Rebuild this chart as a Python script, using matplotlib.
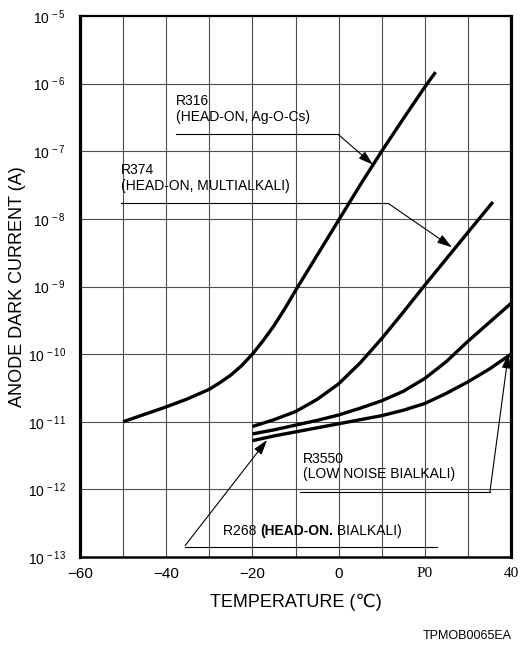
import numpy as np
import matplotlib
matplotlib.use("Agg")
import matplotlib.pyplot as plt

plt.rcParams['font.family'] = ['Liberation Sans', 'DejaVu Sans']
plt.rcParams['mathtext.fontset'] = 'custom'
plt.rcParams['mathtext.rm'] = 'Liberation Sans'
plt.rcParams['mathtext.it'] = 'Liberation Sans'

# Anode dark current (log10 of amperes) versus temperature (deg C)
r316_temp = [-50, -45, -40, -35, -30, -27.5, -25, -22.5, -20, -17.5, -15, -12.5,
             -10, -5, 0, 5, 10, 15, 20, 22.5]
r316_log = [-11.0, -10.89, -10.78, -10.66, -10.52, -10.42, -10.31, -10.17, -10.0,
            -9.80, -9.58, -9.33, -9.06, -8.54, -8.02, -7.5, -7.0, -6.52, -6.05, -5.83]

r374_temp = [-20, -15, -10, -5, 0, 5, 10, 15, 20, 25, 30, 35.8]
r374_log = [-11.07, -10.97, -10.85, -10.67, -10.44, -10.13, -9.77, -9.38, -8.98,
            -8.59, -8.2, -7.75]

r3550_temp = [-20, -15, -10, -5, 0, 5, 10, 15, 20, 25, 30, 35, 40]
r3550_log = [-11.18, -11.12, -11.05, -10.98, -10.9, -10.8, -10.69, -10.55, -10.36,
             -10.11, -9.81, -9.53, -9.25]

r268_temp = [-20, -15, -10, -5, 0, 5, 10, 15, 20, 25, 30, 35, 40]
r268_log = [-11.28, -11.21, -11.15, -11.09, -11.03, -10.97, -10.91, -10.83, -10.73,
            -10.58, -10.41, -10.22, -10.0]

x_ticks = [-60, -40, -20, 0, 20, 40]
x_tick_labels = ['\u221260', '\u221240', '\u221220', '0', 'P0', '40']
y_exponents = [-13, -12, -11, -10, -9, -8, -7, -6, -5]

W, H = 521, 647
fig = plt.figure(figsize=(W / 100, H / 100), dpi=100)
ax = fig.add_axes([80 / W, 1 - 557 / H, (511 - 80) / W, (557 - 16) / H])

ax.set_yscale('log')
ax.set_xlim(-60, 40)
ax.set_ylim(1e-13, 1e-5)

# grid
for t in range(-50, 40, 10):
    ax.axvline(t, color='0.3', lw=0.8, zorder=1)
for e in y_exponents[1:-1]:
    ax.axhline(10.0 ** e, color='0.3', lw=0.8, zorder=1)

for temp, lg in [(r316_temp, r316_log), (r374_temp, r374_log),
                 (r3550_temp, r3550_log), (r268_temp, r268_log)]:
    ax.plot(temp, 10.0 ** np.array(lg), color='black', lw=2.4,
            solid_capstyle='butt', solid_joinstyle='round', zorder=3)

# axes frame
for side, lw in [('left', 2.3), ('right', 2.3), ('top', 1.6), ('bottom', 1.8)]:
    ax.spines[side].set_linewidth(lw)

ax.minorticks_off()
ax.set_yticks([10.0 ** e for e in y_exponents])
ax.set_yticklabels([r'$10^{\,%d}$' % e for e in y_exponents])
ax.tick_params(axis='y', length=0, pad=10, labelsize=10)
ax.set_xticks(x_ticks)
ax.set_xticklabels(x_tick_labels)
ax.tick_params(axis='x', length=0, pad=7, labelsize=11)
for lab in ax.get_xticklabels():
    if lab.get_text() in ('P0', '40'):
        lab.set_family(['Liberation Serif', 'DejaVu Serif'])
        lab.set_fontsize(11)

lead = dict(color='black', lw=0.8, zorder=4)
arrow = dict(arrowstyle='-|>,head_length=0.9,head_width=0.28', color='black',
             lw=0.8, mutation_scale=10, shrinkA=0, shrinkB=0)
fs = 10

# R316 label
ax.text(-37.7, 10 ** -6.16, 'R316\n(HEAD-ON, Ag-O-Cs)', fontsize=fs, va='top',
        ha='left', linespacing=1.15)
ax.plot([-37.7, -0.1], [10 ** -6.75, 10 ** -6.75], **lead)
ax.annotate('', xy=(8.0, 10 ** -7.2), xytext=(-0.1, 10 ** -6.75), arrowprops=arrow)

# R374 label
ax.text(-50.5, 10 ** -7.18, 'R374\n(HEAD-ON, MULTIALKALI)', fontsize=fs, va='top',
        ha='left', linespacing=1.15)
ax.plot([-50.5, 11.5], [10 ** -7.77, 10 ** -7.77], **lead)
ax.annotate('', xy=(26.3, 10 ** -8.42), xytext=(11.5, 10 ** -7.77), arrowprops=arrow)

# R3550 label
ax.text(-8.3, 10 ** -11.44, 'R3550\n(LOW NOISE BIALKALI)', fontsize=fs, va='top',
        ha='left', linespacing=1.15)
ax.plot([-9.0, 35.1], [10 ** -12.04, 10 ** -12.04], **lead)
ax.annotate('', xy=(39.4, 10 ** -9.99), xytext=(35.1, 10 ** -12.04), arrowprops=arrow)

# R268 label with bold middle part
t1 = ax.text(-26.8, 10 ** -12.72, 'R268 ', fontsize=fs, va='bottom', ha='left')
t2 = ax.annotate('(HEAD-ON.', xy=(1, 0), xycoords=t1, fontsize=fs,
                 fontweight='bold', va='bottom', ha='left')
ax.annotate(' BIALKALI)', xy=(1, 0), xycoords=t2, fontsize=fs, va='bottom', ha='left')
ax.plot([-35.6, 22.8], [10 ** -12.855, 10 ** -12.855], **lead)
ax.annotate('', xy=(-16.6, 10 ** -11.27), xytext=(-35.6, 10 ** -12.83), arrowprops=arrow)

fig.text(296 / W, 1 - 602 / H, 'TEMPERATURE (\u2103)', ha='center', va='center',
         fontsize=13)
fig.text(18 / W, 1 - 287 / H, 'ANODE DARK CURRENT (A)', ha='center', va='center',
         rotation=90, fontsize=13)
fig.text(423 / W, 1 - 636 / H, 'TPMOB0065EA', ha='left', va='center', fontsize=9)

fig.savefig('out.png', dpi=100)
